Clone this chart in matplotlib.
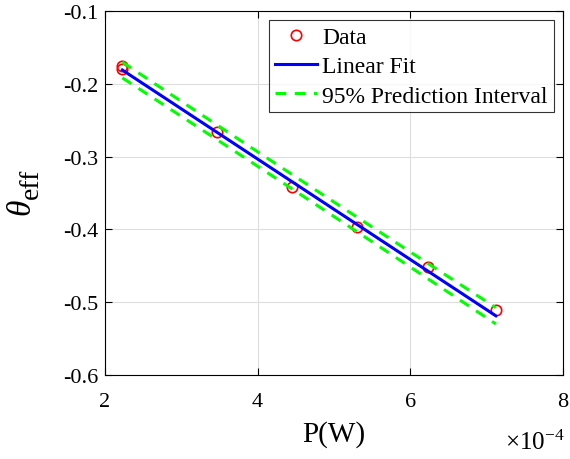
import numpy as np
import matplotlib
matplotlib.use('Agg')
import matplotlib.pyplot as plt

plt.rcParams['font.family'] = ['Liberation Serif', 'DejaVu Serif']
plt.rcParams['mathtext.fontset'] = 'custom'
plt.rcParams['mathtext.rm'] = 'Liberation Serif'
plt.rcParams['mathtext.it'] = 'Liberation Serif:italic'
plt.rcParams['axes.unicode_minus'] = False

# measured data (power in W, effective angle)
power = np.array([2.227e-4, 2.227e-4, 3.464e-4, 4.45e-4, 5.30e-4, 6.237e-4, 7.12e-4])
theta_eff = np.array([-0.176, -0.180, -0.2667, -0.342, -0.397, -0.452, -0.5107])
x_ticks = [2, 4, 6, 8]
y_ticks = [-0.6, -0.5, -0.4, -0.3, -0.2, -0.1]

# fit as drawn in the figure (per 1e-4 W), and its residual std
fit_slope = -0.0690
fit_intercept = -0.0274
fit_std = 0.0036
t_val = 2.571  # t(0.975, 5)

x = power * 1e4
n = len(x)
xf = np.linspace(x.min(), x.max(), 100)
yf = fit_intercept + fit_slope * xf
sxx = np.sum((x - x.mean())**2)
half = t_val * fit_std * np.sqrt(1 + 1/n + (xf - x.mean())**2 / sxx)

fig = plt.figure(figsize=(5.7, 4.6), dpi=100)
ax = fig.add_axes([0.1842, 0.1826, 0.8035, 0.7913])

ax.plot(x, theta_eff, 'o', mfc='none', mec='red', ms=7.5, mew=1.2, label='Data')
ax.plot(xf, yf, '-', color='blue', lw=2.2, label='Linear Fit')
ax.plot(xf, yf + half, '--', color='#00ff00', lw=2.2, dashes=(3.5, 2.8), label='95% Prediction Interval')
ax.plot(xf, yf - half, '--', color='#00ff00', lw=2.2, dashes=(3.5, 2.8))

ax.set_xlim(2, 8)
ax.set_ylim(-0.6, -0.1)
ax.set_xticks(x_ticks)
ax.set_yticks(y_ticks)
ax.set_yticklabels(['%.1f' % v for v in y_ticks])
ax.tick_params(direction='in', labelsize=16, length=5, top=True, right=True,
               labeltop=False, labelright=False)
ax.tick_params(axis='x', pad=12)
ax.tick_params(axis='y', pad=5)
ax.grid(True, color='#dedede', lw=0.8)
ax.set_axisbelow(True)
for sp in ax.spines.values():
    sp.set_linewidth(0.8)

ax.set_xlabel('P(W)', fontsize=21, labelpad=7)
fig.text(22.5/570, 1 - 208/460, r'$\theta$', fontsize=24, rotation=90, ha='center', va='center')
fig.text(31/570, 1 - 184/460, 'eff', fontsize=20, rotation=90, ha='center', va='center')
fig.text(565/570, 1 - 450/460, r'$\times\mathrm{10}^{\mathrm{-4}}$', fontsize=18, ha='right', va='baseline')

leg = ax.legend(loc='upper right', fontsize=17, frameon=True, fancybox=False,
                edgecolor='black', borderpad=0.25, labelspacing=0.33, handlelength=1.8,
                handletextpad=0.2, borderaxespad=0.4)
leg.get_frame().set_linewidth(0.8)

fig.savefig('out.png', dpi=100)
